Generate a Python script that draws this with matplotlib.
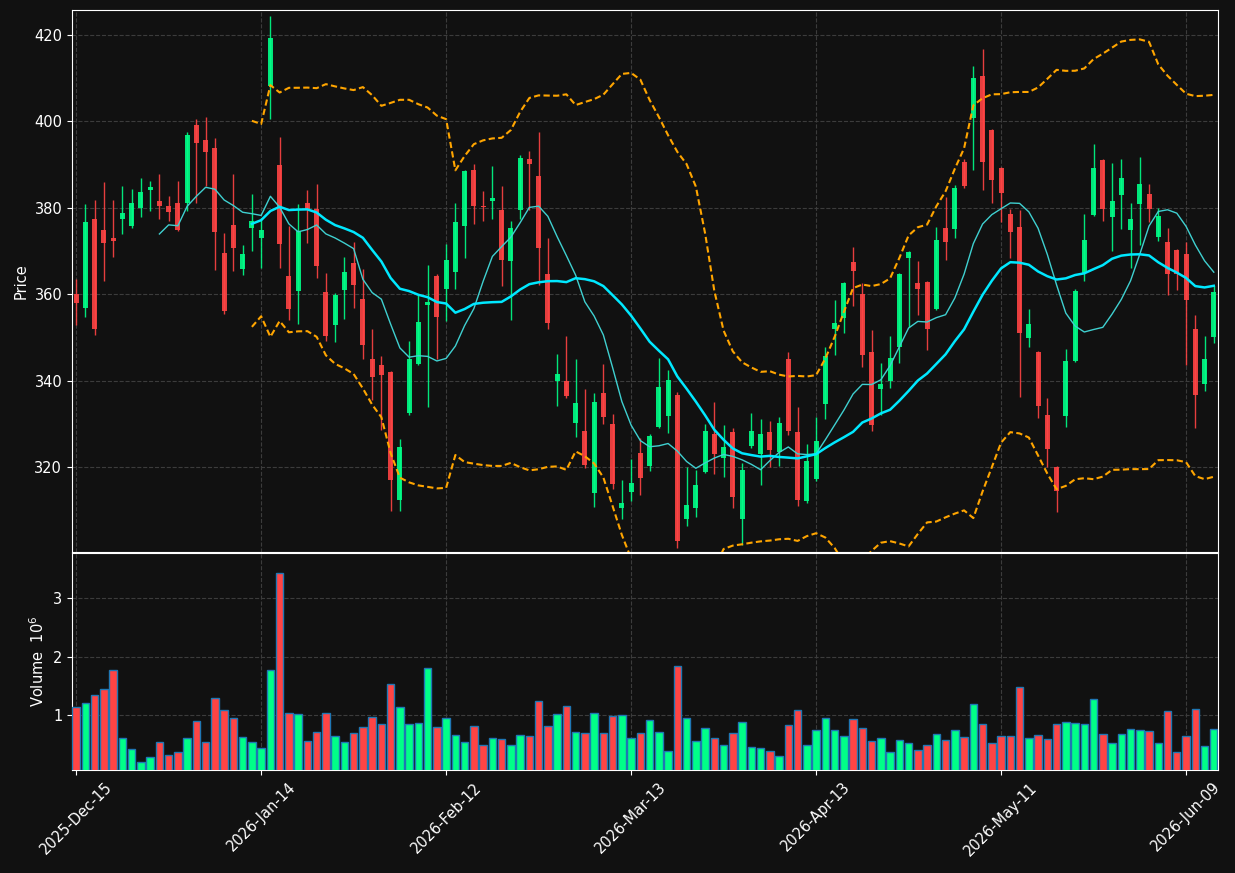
import numpy as np
import pandas as pd
import matplotlib
matplotlib.use("Agg")
import matplotlib.pyplot as plt

# trading sessions (exchange holidays skipped)
holidays = ["2025-12-25", "2026-01-01", "2026-01-19", "2026-02-16", "2026-04-03", "2026-05-25"]
dates = pd.bdate_range("2025-12-15", "2026-06-12", freq="C", holidays=holidays)

opens = [360.1, 356.9, 377.3, 374.9, 373.1, 377.4, 375.7, 379.9, 384.0, 381.6,
         380.5, 381.2, 381.1, 399.2, 395.8, 393.9, 369.6, 375.9, 365.8, 375.4,
         373.1, 408.1, 389.8, 364.3, 360.7, 381.0, 379.8, 360.6, 352.8, 361.0,
         367.1, 358.8, 345.1, 343.5, 341.9, 312.4, 332.5, 343.8, 357.4, 364.2,
         361.1, 365.1, 375.8, 388.8, 380.4, 381.5, 379.4, 367.6, 379.5, 391.4,
         387.3, 364.6, 339.9, 340.0, 330.1, 328.2, 314.0, 337.0, 329.9, 310.4,
         314.3, 323.3, 320.1, 329.3, 331.9, 336.6, 307.9, 310.4, 318.8, 327.7,
         322.0, 328.1, 307.9, 324.8, 322.9, 328.0, 323.5, 344.9, 328.0, 312.0,
         317.1, 334.6, 351.9, 354.4, 367.5, 360.1, 346.5, 338.0, 339.9, 347.8,
         368.4, 362.6, 362.9, 356.5, 375.3, 375.0, 390.5, 400.7, 410.6, 398.0,
         389.2, 378.6, 375.6, 349.8, 346.5, 332.1, 320.0, 331.7, 344.5, 364.9,
         378.4, 391.1, 377.8, 382.9, 374.8, 380.8, 383.3, 373.2, 372.0, 370.2,
         369.2, 352.0, 339.1, 350.1]
highs = [363.5, 380.8, 381.8, 386.0, 381.8, 385.1, 384.4, 386.9, 386.1, 387.9,
         382.8, 386.1, 397.6, 400.5, 400.9, 396.2, 374.1, 387.8, 371.4, 383.2,
         377.6, 424.4, 396.4, 375.8, 380.8, 384.1, 385.6, 364.9, 360.3, 368.6,
         372.1, 365.9, 352.0, 345.6, 342.2, 326.4, 349.2, 359.7, 366.7, 364.6,
         371.5, 381.1, 388.7, 390.2, 383.9, 389.7, 385.1, 377.0, 392.2, 393.1,
         397.6, 373.0, 346.1, 350.2, 345.1, 338.1, 337.1, 343.9, 332.3, 317.0,
         321.9, 326.8, 327.7, 345.3, 342.4, 337.4, 320.0, 319.3, 330.0, 335.1,
         329.7, 328.9, 320.8, 332.5, 331.0, 330.6, 331.6, 346.6, 333.8, 325.3,
         331.5, 347.8, 358.6, 362.8, 370.9, 362.6, 351.8, 344.0, 350.2, 364.8,
         370.0, 367.7, 363.1, 375.6, 382.4, 385.2, 391.4, 412.8, 416.8, 398.3,
         389.5, 379.8, 379.4, 356.5, 346.8, 336.0, 320.3, 347.2, 361.1, 378.6,
         394.7, 391.4, 390.4, 391.3, 381.0, 391.8, 385.6, 380.0, 375.2, 370.4,
         372.1, 355.2, 350.2, 361.9]
lows = [352.8, 354.7, 350.5, 363.0, 368.6, 374.0, 375.4, 377.8, 379.3, 377.4,
        376.9, 374.6, 379.2, 381.1, 385.0, 365.6, 355.4, 365.4, 364.4, 370.0,
        366.0, 400.6, 366.0, 354.0, 353.1, 371.8, 363.7, 349.2, 348.9, 354.3,
        356.8, 345.1, 335.4, 328.5, 309.9, 309.8, 332.0, 343.6, 333.9, 344.9,
        353.8, 361.3, 368.4, 376.2, 377.0, 377.4, 361.9, 354.0, 377.4, 379.4,
        362.2, 352.0, 334.2, 336.0, 327.0, 319.7, 310.7, 329.9, 315.0, 307.9,
        312.2, 313.6, 319.0, 329.1, 327.8, 301.2, 306.4, 308.4, 318.5, 318.4,
        317.7, 310.6, 302.0, 324.4, 315.9, 320.0, 320.2, 327.4, 311.0, 311.7,
        316.8, 331.1, 346.0, 351.1, 357.2, 343.2, 328.4, 332.1, 338.3, 344.1,
        352.3, 355.1, 347.0, 356.3, 367.9, 373.0, 384.6, 388.7, 384.0, 381.1,
        376.6, 368.4, 336.3, 347.8, 331.3, 320.0, 309.5, 329.3, 344.2, 363.0,
        378.1, 377.0, 370.0, 375.1, 366.1, 371.4, 376.6, 372.4, 359.8, 360.9,
        343.7, 329.1, 337.6, 348.6]
closes = [357.9, 376.8, 351.9, 371.8, 372.3, 378.9, 381.0, 383.7, 384.7, 380.3,
          379.0, 374.8, 396.9, 395.1, 393.0, 374.5, 356.0, 370.8, 369.2, 377.0,
          374.9, 419.2, 371.6, 356.5, 374.6, 379.8, 366.5, 350.2, 359.7, 365.2,
          362.1, 348.2, 340.8, 341.2, 316.9, 324.7, 345.1, 353.6, 358.1, 354.6,
          368.0, 376.8, 388.4, 380.3, 380.1, 382.3, 367.9, 375.4, 391.6, 390.1,
          370.8, 353.3, 341.4, 336.4, 334.9, 320.4, 335.1, 331.5, 316.0, 311.6,
          316.2, 317.4, 327.2, 338.6, 340.2, 302.8, 311.1, 315.7, 328.4, 322.9,
          324.5, 313.0, 319.2, 328.2, 327.7, 323.8, 330.1, 328.4, 312.4, 321.3,
          326.1, 345.7, 353.3, 362.5, 365.3, 346.0, 329.7, 339.3, 345.3, 364.6,
          369.8, 361.1, 351.9, 372.6, 372.1, 384.6, 385.0, 410.0, 390.6, 386.4,
          383.4, 374.5, 351.0, 353.0, 334.1, 324.1, 314.4, 344.6, 360.7, 372.6,
          389.1, 379.6, 381.6, 387.0, 377.3, 385.6, 379.7, 378.2, 364.7, 364.7,
          358.6, 336.6, 344.9, 360.6]
# volume in millions
volumes = [1.14, 1.21, 1.34, 1.44, 1.77, 0.61, 0.42, 0.20, 0.28, 0.54,
           0.32, 0.37, 0.61, 0.90, 0.54, 1.29, 1.09, 0.95, 0.62, 0.54,
           0.44, 1.77, 3.43, 1.03, 1.02, 0.56, 0.71, 1.03, 0.64, 0.54,
           0.69, 0.80, 0.97, 0.85, 1.53, 1.14, 0.85, 0.86, 1.80, 0.80,
           0.95, 0.66, 0.54, 0.81, 0.49, 0.61, 0.59, 0.49, 0.66, 0.64,
           1.24, 0.81, 1.02, 1.15, 0.71, 0.69, 1.03, 0.69, 0.98, 1.00,
           0.61, 0.69, 0.91, 0.71, 0.38, 1.84, 0.95, 0.56, 0.78, 0.61,
           0.49, 0.69, 0.88, 0.45, 0.44, 0.38, 0.30, 0.83, 1.09, 0.49,
           0.74, 0.95, 0.74, 0.64, 0.93, 0.78, 0.56, 0.61, 0.37, 0.57,
           0.52, 0.40, 0.49, 0.68, 0.57, 0.74, 0.62, 1.19, 0.85, 0.52,
           0.64, 0.64, 1.48, 0.61, 0.66, 0.59, 0.85, 0.88, 0.86, 0.85,
           1.27, 0.68, 0.52, 0.68, 0.76, 0.74, 0.73, 0.52, 1.07, 0.37,
           0.64, 1.10, 0.47, 0.76]

df = pd.DataFrame({"Open": opens, "High": highs, "Low": lows,
                   "Close": closes, "Volume": volumes}, index=dates)

# indicators
ma10 = df["Close"].rolling(10).mean()
ma20 = df["Close"].rolling(20).mean()
sd20 = df["Close"].rolling(20).std()
bb_up = ma20 + 2 * sd20
bb_lo = ma20 - 2 * sd20

bg = "#111111"
up_col = "#00ff88"
down_col = "#ff4444"
fs = 10.5

fig = plt.figure(figsize=(12.35, 8.73), dpi=100, facecolor=bg)
ax = fig.add_axes([0.0583, 0.3677, 0.9279, 0.6209])
axv = fig.add_axes([0.0583, 0.1180, 0.9279, 0.2486], sharex=ax)

x = np.arange(len(df))
rising = df["Close"] >= df["Open"]
cols = np.where(rising, up_col, down_col)

# candles
ax.vlines(x, df["Low"], df["High"], colors=cols, linewidth=1, alpha=0.9, zorder=2)
body_lo = np.minimum(df["Open"], df["Close"])
body_h = np.abs(df["Close"] - df["Open"]).clip(lower=0.2)
ax.bar(x, body_h, bottom=body_lo, width=0.55, color=cols, alpha=0.9, linewidth=0, zorder=3)

# moving averages and bollinger bands
ax.plot(x, ma10, color="#3fd0d0", linewidth=1, zorder=4)
ax.plot(x, ma20, color="#00e8ff", linewidth=1.8, zorder=4)
ax.plot(x, bb_up, color="orange", linewidth=1.5, dashes=(3.0, 1.6), zorder=4)
ax.plot(x, bb_lo, color="orange", linewidth=1.5, dashes=(3.0, 1.6), zorder=4)

# volume
axv.bar(x, df["Volume"], width=0.8, color=cols, edgecolor="#1f77b4", linewidth=1, zorder=3)

for a in (ax, axv):
    a.set_facecolor(bg)
    for s in a.spines.values():
        s.set_color("white")
    a.tick_params(colors="white", labelsize=fs)
    a.grid(True, color="#3c3c3c", linestyle="--", linewidth=0.8)
    a.set_axisbelow(True)

ax.set_xlim(-0.45, len(df) - 1 + 0.45)
ax.set_ylim(300.3, 425.8)
ax.set_yticks([320, 340, 360, 380, 400, 420])
ax.set_ylabel("Price", color="white", fontsize=fs)
ax.tick_params(axis="x", bottom=False, labelbottom=False)

axv.set_ylim(0.3 * min(volumes), 1.1 * max(volumes))
axv.set_yticks([1, 2, 3])
axv.set_ylabel("Volume  $10^{6}$", color="white", fontsize=fs)

tick_pos = x[::20]
axv.set_xticks(tick_pos)
axv.set_xticklabels(dates[::20].strftime("%Y-%b-%d"), rotation=45, ha="center")

fig.savefig("out.png", dpi=100, facecolor=bg)
